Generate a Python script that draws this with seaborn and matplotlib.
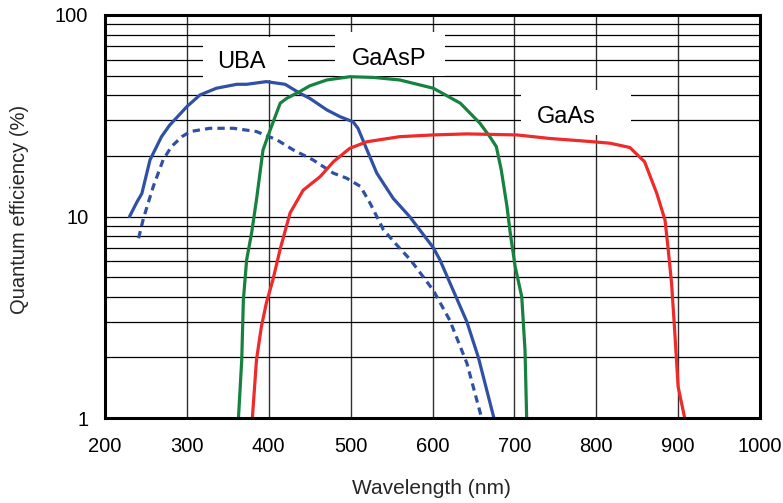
import numpy as np
import pandas as pd
import matplotlib
matplotlib.use("Agg")
import matplotlib.pyplot as plt
import seaborn as sns
from matplotlib.ticker import FixedLocator, NullFormatter, FixedFormatter
from matplotlib.patches import Rectangle

# ---- data ----
uba_wl = [230, 239, 245, 255, 269, 279, 300, 316, 336, 361, 373, 397, 420, 438,
          450, 471, 487, 503, 509, 520, 532, 552, 572, 601, 609, 642, 656, 675]
uba_qe = [10, 11.8, 13.0, 19.1, 24.9, 28.4, 35.1, 40.1, 43.3, 45.3, 45.3, 46.7, 45.3, 40.9,
          38.6, 33.8, 31.3, 29.5, 27.4, 21.4, 16.4, 12.3, 10, 7.0, 6.1, 3.0, 2.0, 1.0]

uba2_wl = [241, 247, 259, 271, 281, 294, 304, 328, 357, 385, 410, 430, 454, 479,
           495, 512, 524, 540, 560, 573, 601, 621, 642, 660]
uba2_qe = [7.8, 9.8, 14.1, 19.1, 22.2, 24.9, 26.4, 27.4, 27.4, 26.4, 24.0, 21.4, 19.1, 16.4,
           15.5, 14.1, 11.6, 8.6, 6.95, 6.1, 4.3, 3.06, 1.87, 1.0]

gaasp_wl = [363, 367, 369, 373, 379, 385, 393, 401, 414, 422, 438, 450, 471, 499,
            528, 560, 601, 634, 658, 670, 678, 684, 691, 695, 701, 709, 713, 715]
gaasp_qe = [1.0, 1.94, 3.85, 6.1, 8.25, 12.1, 21.4, 26.4, 36.5, 38.6, 41.7, 44.5, 47.6, 49.4,
            49.0, 47.6, 43.3, 36.5, 29.0, 24.9, 22.2, 17.0, 11.2, 8.25, 5.63, 4.0, 2.17, 1.0]

gaas_wl = [380, 385, 391, 397, 405, 414, 426, 442, 463, 479, 499, 520, 560, 601,
           642, 703, 743, 796, 817, 841, 859, 874, 884, 888, 892, 896, 900, 908]
gaas_qe = [1.0, 1.94, 2.84, 3.71, 4.84, 6.9, 10.4, 13.5, 15.8, 18.7, 21.8, 23.5, 24.9, 25.4,
           25.7, 25.4, 24.4, 23.5, 23.1, 22.0, 18.7, 13.0, 9.6, 6.8, 4.66, 2.63, 1.43, 1.0]

x_ticks = [200, 300, 400, 500, 600, 700, 800, 900, 1000]
y_ticks = [1, 10, 100]
y_tick_labels = ["1", "10", "100"]

labels = ["UBA", "GaAsP", "GaAs"]
label_x = [367, 547, 764]
label_y = [58.4, 60.8, 31.0]
box_x0 = [320, 481, 708]
box_x1 = [423, 615, 842]
box_y0 = [47.6, 49.8, 25.4]
box_y1 = [77.8, 82.3, 42.5]

BLUE = "#3050a4"
GREEN = "#17813f"
RED = "#ee2a2a"

sns.set_style("white")
plt.rcParams['font.family'] = ['Liberation Sans', 'DejaVu Sans']

fig = plt.figure(figsize=(7.83, 5.03), dpi=100)
ax = fig.add_axes([105/783, 1 - 418/503, 655/783, 403/503])

ax.set_yscale("log")
ax.set_xlim(200, 1000)
ax.set_ylim(1, 100)

series = [
    (uba_wl, uba_qe, BLUE, "-"),
    (uba2_wl, uba2_qe, BLUE, (0, (2.3, 1.6))),
    (gaasp_wl, gaasp_qe, GREEN, "-"),
    (gaas_wl, gaas_qe, RED, "-"),
]
for wl, qe, col, ls in series:
    df = pd.DataFrame({"wl": wl, "qe": qe})
    sns.lineplot(data=df, x="wl", y="qe", ax=ax, color=col, linewidth=2.3,
                 sort=False, estimator=None, zorder=3, linestyle=ls)

# grid
ax.xaxis.set_major_locator(FixedLocator(x_ticks))
ax.yaxis.set_major_locator(FixedLocator(y_ticks))
ax.yaxis.set_major_formatter(FixedFormatter(y_tick_labels))
minor = [m * 10**d for d in range(0, 2) for m in range(2, 10)]
ax.yaxis.set_minor_locator(FixedLocator(minor))
ax.yaxis.set_minor_formatter(NullFormatter())
ax.set_axisbelow(True)
ax.grid(True, which="major", axis="x", color="#303030", linewidth=1.0)
ax.grid(True, which="both", axis="y", color="black", linewidth=0.9)

ax.tick_params(axis="both", which="both", length=0, labelsize=14.5, colors="black")
ax.tick_params(axis="x", pad=13.5)
ax.tick_params(axis="y", pad=12)

for s in ax.spines.values():
    s.set_visible(True)
    s.set_color("black")
    s.set_linewidth(2.2)
    s.set_zorder(4)

# label boxes
for t, tx, ty, x0, x1, y0, y1 in zip(labels, label_x, label_y, box_x0, box_x1, box_y0, box_y1):
    ax.add_patch(Rectangle((x0, y0), x1 - x0, y1 - y0, facecolor="white",
                           edgecolor="none", zorder=1.5))
    ax.text(tx, ty, t, fontsize=17, ha="center", va="center", zorder=2.5, color="black")

ax.set_xlabel("Wavelength (nm)", fontsize=15)
ax.set_ylabel("Quantum efficiency (%)", fontsize=14.5)
ax.xaxis.label.set_va("center")
ax.yaxis.label.set_va("center")
ax.xaxis.set_label_coords(0.4977, -0.176)
ax.yaxis.set_label_coords(-0.1298, 0.5186)

fig.savefig("out.png", dpi=100)
